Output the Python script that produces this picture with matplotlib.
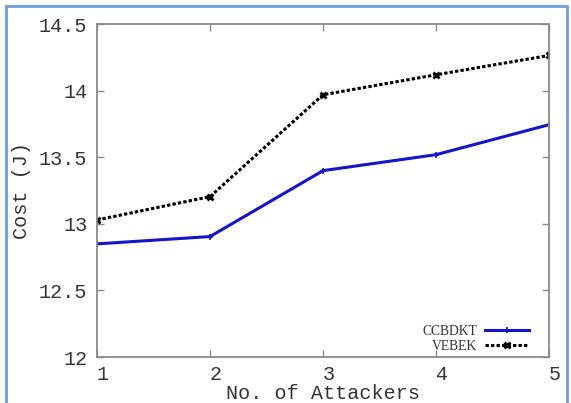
import numpy as np
import matplotlib.pyplot as plt
import matplotlib.transforms as mtransforms
from matplotlib.patches import Rectangle

# data
attackers = [1, 2, 3, 4, 5]
ccbdkt = [12.85, 12.905, 13.40, 13.52, 13.745]
vebek = [13.03, 13.205, 13.97, 14.12, 14.265]
yticks = [12, 12.5, 13, 13.5, 14, 14.5]
ytick_labels = ["12", "12.5", "13", "13.5", "14", "14.5"]

mono = "Liberation Mono"
serif = "Liberation Serif"

fig = plt.figure(figsize=(5.71, 4.03), dpi=100)
ax = fig.add_axes([0.170, 0.114, 0.7915, 0.826])

ax.plot(attackers, ccbdkt, color='#1414c8', linewidth=2.2, marker='+',
        markersize=5, markeredgewidth=1.2, label="CCBDKT")
ax.plot(attackers, vebek, color='black', linewidth=2.2, linestyle=(0, (1.1, 0.7)),
        marker='x', markersize=5, markeredgewidth=2, label="VEBEK")

ax.set_xlim(1, 5)
ax.set_ylim(12, 14.5)
ax.set_xticks(attackers)
ax.set_yticks(yticks)
ax.set_yticklabels(ytick_labels)

for sp in ax.spines.values():
    sp.set_color('#8a8a8a')
    sp.set_linewidth(1.3)

ax.tick_params(direction='in', top=True, right=True, length=5, width=1,
               color='#8a8a8a', labelcolor='#333333', labelsize=14.5)
ax.tick_params(axis='x', pad=6)
ax.tick_params(axis='y', pad=7)
for lbl in ax.get_xticklabels() + ax.get_yticklabels():
    lbl.set_fontfamily(mono)

# gnuplot puts the x labels a little to the right of the ticks
shift = mtransforms.ScaledTranslation(6 / 100, 0, fig.dpi_scale_trans)
for lbl in ax.get_xticklabels():
    lbl.set_transform(lbl.get_transform() + shift)

ax.set_xlabel("No. of Attackers", family=mono, fontsize=14.5, color='#333333')
ax.xaxis.set_label_coords(0.5, -0.139)
ax.xaxis.label.set_va('bottom')
ax.set_ylabel("Cost (J)", family=mono, fontsize=14.5, color='#333333', labelpad=6)

leg = ax.legend(loc='lower right', frameon=False, markerfirst=False,
                prop={'family': serif, 'size': 9.8}, handlelength=3.2,
                labelspacing=0.15, borderaxespad=0, borderpad=0,
                handletextpad=0.6, bbox_to_anchor=(0.955, 0.012))
for t in leg.get_texts():
    t.set_color('#333333')

# light blue frame around the picture
fig.patches.append(Rectangle((6 / 571, -0.05), 561 / 571, (403 - 6) / 403 + 0.05,
                             transform=fig.transFigure, fill=False,
                             edgecolor='#6e9ed8', linewidth=2))

fig.savefig("out.png", dpi=100)
